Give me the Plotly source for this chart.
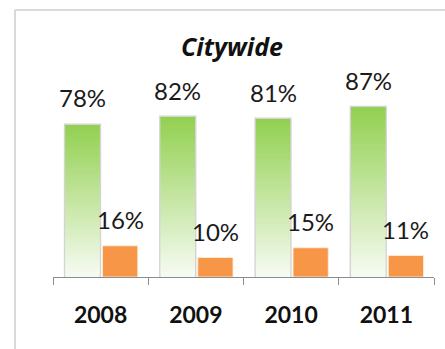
import plotly.graph_objects as go

# Survey results by year
years = ["2008", "2009", "2010", "2011"]
green_pct = [78, 82, 81, 87]
orange_pct = [16, 10, 15, 11]

GREEN_TOP = (146, 208, 80)
GREEN_BOTTOM = (247, 251, 243)
ORANGE = "#F79646"
FONT = "Lato"

# bar geometry in category units
G_OFF, G_W = -0.37, 0.36
O_OFF, O_W = 0.02, 0.37
N_SLICES = 60


def mix(c1, c2, t):
    return "rgb({},{},{})".format(*[round(a + (b - a) * t) for a, b in zip(c1, c2)])


fig = go.Figure()

# soft outline behind the green bars
fig.add_trace(go.Bar(
    x=years, y=green_pct, offset=G_OFF, width=G_W,
    marker=dict(color="rgba(0,0,0,0)", line=dict(color="rgba(170,170,170,0.5)", width=3)),
    hoverinfo="skip",
))

# green bars drawn as stacked, slightly overlapping slices to give a vertical
# gradient (full green at the top, almost white at the base)
for i in range(N_SLICES):
    t = 1 - (i + 0.5) / N_SLICES
    bases = [v * i / N_SLICES for v in green_pct]
    heights = [min(v * 2.0 / N_SLICES, v - b) for v, b in zip(green_pct, bases)]
    fig.add_trace(go.Bar(
        x=years, y=heights, base=bases,
        offset=G_OFF, width=G_W,
        marker=dict(color=mix(GREEN_TOP, GREEN_BOTTOM, t), line=dict(width=0)),
        hoverinfo="skip",
    ))

# orange bars
fig.add_trace(go.Bar(
    x=years, y=orange_pct, offset=O_OFF, width=O_W,
    marker=dict(color=ORANGE, line=dict(color="rgba(255,235,215,0.9)", width=1)),
    hoverinfo="skip",
))

# value labels
ann = []
for i, (g, o) in enumerate(zip(green_pct, orange_pct)):
    ann.append(dict(x=i + G_OFF + G_W / 2, y=g, text=f"{g}%", yshift=27,
                    yanchor="middle", showarrow=False,
                    font=dict(family=FONT, size=24, color="#1a1a1a")))
    ann.append(dict(x=i + O_OFF + O_W / 2, y=o, text=f"{o}%", yshift=26,
                    yanchor="middle", showarrow=False,
                    font=dict(family=FONT, size=24, color="#1a1a1a")))

# chart frame
frame = [
    dict(type="line", xref="paper", yref="paper", x0=-0.0997, x1=1.05, y0=1.369, y1=1.369,
         line=dict(color="#d9d9d9", width=2)),
    dict(type="line", xref="paper", yref="paper", x0=-0.0997, x1=-0.0997, y0=1.369, y1=-0.4,
         line=dict(color="#d9d9d9", width=2)),
]

fig.update_layout(
    width=445, height=349, autosize=False,
    margin=dict(l=53, r=11, t=82, b=72),
    paper_bgcolor="white", plot_bgcolor="white",
    barmode="overlay", showlegend=False,
    title=dict(text="Citywide", x=232 / 445, xanchor="center", y=1 - 47 / 349, yanchor="middle",
               font=dict(family="Open Sans", size=25, color="#111", weight="bold", style="italic")),
    annotations=ann, shapes=frame,
    xaxis=dict(type="category", showline=True, linecolor="#8c8c8c", linewidth=1,
               ticks="outside", tickson="boundaries", ticklen=7, tickcolor="#8c8c8c",
               tickfont=dict(family=FONT, size=23, color="#111", weight="bold"),
               showgrid=False, zeroline=False, ticklabelstandoff=17),
    yaxis=dict(range=[0, 100], visible=False, showgrid=False, zeroline=False),
)

fig.write_html("out.html")
